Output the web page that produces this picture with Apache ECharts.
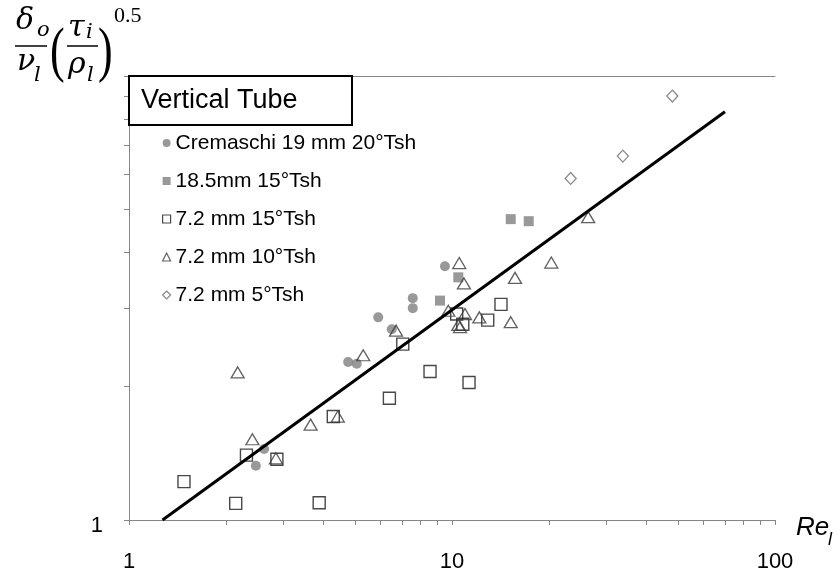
<!DOCTYPE html>
<html>
<head>
<meta charset="utf-8">
<script src="https://cdn.jsdelivr.net/npm/echarts@6/dist/echarts.min.js"></script>
<style>
html,body{margin:0;padding:0;background:#fff;}
#chart{width:838px;height:577px;}
</style>
</head>
<body>
<div id="chart"></div>
<script>
// ---- data ----
const seriesNames = ['Cremaschi 19 mm 20°Tsh', '18.5mm 15°Tsh', '7.2 mm 15°Tsh', '7.2 mm 10°Tsh', '7.2 mm 5°Tsh'];
const xTickValues = [1,2,3,4,5,6,7,8,9,10,20,30,40,50,60,70,80,90,100];
const xLabelValues = [1,10,100];
const yTickValues = [1,2,3,4,5,6,7,8,9,10];
const yLabelValues = [1];

const cremaschi = [[9.51,3.73],[7.56,3.16],[7.56,3.00],[5.91,2.86],[6.51,2.69],[4.77,2.27],[5.07,2.25],[2.62,1.445],[2.47,1.325]];
const mm185_15 = [[10.46,3.52],[9.18,3.12],[15.2,4.76],[17.28,4.71]];
const mm72_15 = [[1.48,1.22],[2.14,1.09],[3.88,1.094],[2.31,1.40],[2.87,1.37],[4.29,1.71],[6.40,1.88],[7.04,2.49],[8.55,2.16],[11.29,2.04],[10.34,2.91],[10.80,2.76],[12.90,2.82],[14.18,3.06]];
const mm72_10 = [[2.17,2.15],[2.41,1.52],[2.85,1.377],[3.65,1.64],[4.43,1.71],[5.31,2.35],[6.71,2.67],[9.74,2.96],[10.53,3.79],[10.89,3.41],[10.97,2.91],[10.46,2.75],[10.59,2.72],[12.15,2.86],[15.2,2.79],[15.67,3.51],[20.3,3.80],[26.4,4.81]];
const mm72_5 = [[23.3,5.88],[33.8,6.60],[48.1,9.01]];
const fitLine = [[1.27,1],[70,8.31]];

// ---- chart ----
const chart = echarts.init(document.getElementById('chart'), null, {renderer:'canvas'});
const axisGray = '#868686';
const sans = 'Liberation Sans, Arial, sans-serif';
const serif = 'DejaVu Serif, Liberation Serif, serif';

function mathText(txt, x, y, size, italic, scaleY, fam) {
  return {type:'text', z:50, x:x, y:y, scaleY: scaleY || 1,
    style:{text:txt, x:0, y:0, fill:'#000', font:(italic?'italic ':'') + size + 'px ' + (fam || serif), textAlign:'left', textVerticalAlign:'middle'}};
}

const option = {
  animation:false,
  backgroundColor:'#fff',
  grid:{left:129, top:76, width:646, height:444, containLabel:false},
  xAxis:[{
    type:'log', logBase:10, min:1, max:100,
    axisLine:{show:true, lineStyle:{color:axisGray, width:1}},
    axisTick:{show:true, inside:false, length:5, customValues:xTickValues, lineStyle:{color:axisGray}},
    axisLabel:{show:true, customValues:xLabelValues, fontFamily:sans, fontSize:22, color:'#000', margin:31},
    splitLine:{show:false}, minorTick:{show:false}
  },{
    type:'log', logBase:10, min:1, max:100, position:'top',
    axisLine:{show:true, lineStyle:{color:axisGray, width:1}},
    axisTick:{show:false}, axisLabel:{show:false}, splitLine:{show:false}
  }],
  yAxis:{
    type:'log', logBase:10, min:1, max:10,
    axisLine:{show:true, lineStyle:{color:axisGray, width:1}},
    axisTick:{show:true, inside:false, length:5, customValues:yTickValues, lineStyle:{color:axisGray}},
    axisLabel:{show:true, customValues:yLabelValues, fontFamily:sans, fontSize:22, color:'#000', margin:26,
      formatter:'{a|{value}}', rich:{a:{fontFamily:sans, fontSize:22, color:'#000', padding:[12,0,0,0]}}},
    splitLine:{show:false}, minorTick:{show:false}
  },
  legend:{
    orient:'vertical', left:157, top:126, itemWidth:8, itemHeight:8, itemGap:14,
    textStyle:{fontFamily:sans, fontSize:21, color:'#000', lineHeight:24},
    data:[
      {name:seriesNames[0]},
      {name:seriesNames[1]},
      {name:seriesNames[2], itemStyle:{borderWidth:1.2}},
      {name:seriesNames[3], itemStyle:{borderWidth:1.2}},
      {name:seriesNames[4], itemStyle:{borderWidth:1.2}}
    ]
  },
  series:[
    {name:seriesNames[0], type:'scatter', data:cremaschi, symbol:'circle', symbolSize:10,
      itemStyle:{color:'#808080', borderWidth:0}},
    {name:seriesNames[1], type:'scatter', data:mm185_15, symbol:'rect', symbolSize:10,
      itemStyle:{color:'#808080', borderWidth:0}},
    {name:seriesNames[2], type:'scatter', data:mm72_15, symbol:'rect', symbolSize:12,
      itemStyle:{color:'rgba(255,255,255,0)', borderColor:'#1a1a1a', borderWidth:1.4}},
    {name:seriesNames[3], type:'scatter', data:mm72_10, symbol:'triangle', symbolSize:[13,11],
      itemStyle:{color:'rgba(255,255,255,0)', borderColor:'#3a3a3a', borderWidth:1.3}},
    {name:seriesNames[4], type:'scatter', data:mm72_5, symbol:'diamond', symbolSize:[11,12],
      itemStyle:{color:'rgba(255,255,255,0)', borderColor:'#6a6a6a', borderWidth:1.3}},
    {name:'fit', type:'line', data:fitLine, symbol:'none', z:5,
      lineStyle:{color:'#000', width:3}, silent:true}
  ],
  graphic:[
    {type:'rect', z:40, shape:{x:129, y:76, width:223, height:49}, style:{fill:'#fff', stroke:'#000', lineWidth:2}},
    {type:'text', z:41, style:{text:'Vertical Tube', x:141, y:101, fill:'#000', font:'27px ' + sans, textVerticalAlign:'middle'}},
    // y-axis title: delta_o / nu_l ( tau_i / rho_l )^0.5
    mathText('δ', 16, 21, 30, true),
    mathText('o', 37, 31, 21, true),
    {type:'line', z:50, shape:{x1:15, y1:46, x2:47, y2:46}, style:{stroke:'#000', lineWidth:1.5}},
    mathText('ν', 17, 62, 30, true),
    mathText('l', 34, 76, 21, true),
    mathText('(', 50, 54, 44, false, 1.4, 'Liberation Serif, serif'),
    mathText('τ', 68, 28, 30, true),
    mathText('i', 86, 33, 21, true),
    {type:'line', z:50, shape:{x1:67, y1:46, x2:98, y2:46}, style:{stroke:'#000', lineWidth:1.5}},
    mathText('ρ', 68, 65, 30, true),
    mathText('l', 87, 76, 21, true),
    mathText(')', 98, 54, 44, false, 1.4, 'Liberation Serif, serif'),
    mathText('0.5', 114, 16, 22, false, 1, 'Liberation Serif, serif'),
    // x-axis title Re_l
    {type:'text', z:50, style:{text:'Re', x:796, y:528, fill:'#000', font:'italic 26px ' + sans, textVerticalAlign:'middle'}},
    {type:'text', z:50, style:{text:'l', x:828, y:540, fill:'#000', font:'italic 18px ' + sans, textVerticalAlign:'middle'}}
  ]
};
chart.setOption(option);
</script>
</body>
</html>
